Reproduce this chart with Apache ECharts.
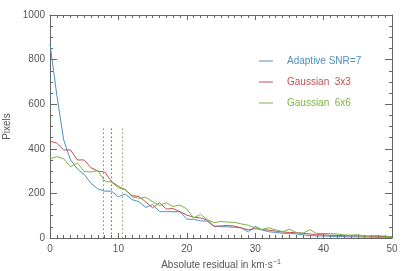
<!DOCTYPE html>
<html>
<head>
<meta charset="utf-8">
<script src="https://cdn.jsdelivr.net/npm/echarts@6/dist/echarts.min.js"></script>
<style>html,body{margin:0;padding:0;background:#fff}#c{width:407px;height:271px}</style>
</head>
<body>
<div id="c"></div>
<script>
const residuals = [0,1,2,3,4,5,6,7,8,9,10,11,12,13,14,15,16,17,18,19,20,21,22,23,24,25,26,27,28,29,30,31,32,33,34,35,36,37,38,39,40,41,42,43,44,45,46,47,48,49,50];
const adaptive = [870,640,440,350,310,285,245,220,210,210,185,197,172,163,137,150,118,118,118,118,84,84,77,75,52,51,50,48,45,27,52,36,28,25,21,21,18,14,11,9,9,8,7,6,5,5,4,4,3,3,2];
const gauss3 = [435,425,395,395,350,350,315,300,296,253,232,216,190,186,162,135,158,130,132,118,103,93,90,80,53,54,56,53,45,37,42,38,35,31,27,25,24,21,18,15,14,12,12,10,10,10,9,8,8,6,5];
const gauss6 = [355,365,355,320,337,298,296,302,256,250,225,218,185,178,182,163,146,158,141,148,130,90,106,82,69,74,71,70,63,57,45,38,46,36,28,40,24,22,37,20,20,20,18,14,13,15,8,10,10,8,6];
const seriesNames = ['Adaptive SNR=7', 'Gaussian  3x3', 'Gaussian  6x6'];
const thresholds = [7.8, 9.0, 10.6];
const thresholdTop = 500;
const xTicks = [0,10,20,30,40,50];
const yTicks = [0,200,400,600,800,1000];

const colors = ['#4f8fc4', '#c0504d', '#7cb342'];
const values = [adaptive, gauss3, gauss6];
const font = 'Liberation Sans';
const textColor = '#555';
const axisColor = '#666';

function pairs(v){ return residuals.map((x,i)=>[x, v[i]]); }

const xRange = {type:'value', min:xTicks[0], max:xTicks[xTicks.length-1], interval:10};
const yRange = {type:'value', min:yTicks[0], max:yTicks[yTicks.length-1], interval:200};
const gridBox = {left:50, right:15, top:15, bottom:33, containLabel:false, outerBoundsMode:'none'};

function frameAxis(position, gridIndex, onZero, inside, len, split){
  return {
    position: position, gridIndex: gridIndex,
    axisLine:{show:true, onZero:onZero, lineStyle:{color:axisColor, width:1}},
    splitLine:{show:false},
    axisTick:{show:true, inside:inside, length:len, lineStyle:{color:axisColor, width:1}},
    minorTick:{show:true, splitNumber:split, length:3, lineStyle:{color:axisColor, width:1}},
    axisLabel:{show:false}
  };
}
const hidden = {axisLine:{show:false, onZero:false}, axisTick:{show:false}, splitLine:{show:false}};

const chart = echarts.init(document.getElementById('c'), null, {renderer:'canvas'});
chart.setOption({
  animation:false,
  grid:[{...gridBox}, {...gridBox}],
  xAxis:[{
    ...xRange, gridIndex:0, position:'bottom', ...hidden,
    axisLabel:{color:textColor, fontFamily:font, fontSize:10, margin:6, formatter:v=>String(v)},
    name:'Absolute residual in km·s{sup|−1}', nameLocation:'middle', nameGap:20,
    nameTextStyle:{color:textColor, fontFamily:font, fontSize:10,
      rich:{sup:{fontSize:7, verticalAlign:'top', padding:[0,0,6,0], color:textColor, fontFamily:font}}}
  },
  {...xRange, ...frameAxis('top', 0, false, true, 5, 10)},
  {...xRange, ...frameAxis('top', 1, true, false, 5, 10)}],
  yAxis:[{
    ...yRange, gridIndex:0, position:'left', ...hidden,
    axisLabel:{color:textColor, fontFamily:font, fontSize:10, margin:5, formatter:v=>String(v)},
    name:'Pixels', nameLocation:'middle', nameGap:29,
    nameTextStyle:{color:textColor, fontFamily:font, fontSize:10}
  },
  {...yRange, ...frameAxis('right', 0, false, true, 7, 4)},
  {...yRange, ...frameAxis('right', 1, true, false, 7, 4)}],
  legend:{
    orient:'vertical', left:254, top:51, itemGap:11,
    icon:'rect', itemWidth:14, itemHeight:1,
    data: seriesNames.map((n,i)=>({name:n, textStyle:{color:colors[i]}})),
    textStyle:{fontFamily:font, fontSize:10, padding:[0,0,0,9]}
  },
  series: values.map((v,i)=>({
    name:seriesNames[i], type:'line', xAxisIndex:0, yAxisIndex:0,
    data:pairs(v), symbol:'none',
    color:colors[i],
    lineStyle:{color:colors[i], width:1}, itemStyle:{color:colors[i]},
    markLine:{
      silent:true, symbol:'none', label:{show:false},
      lineStyle:{color:colors[i], type:[1.5,2.5], width:1},
      data:[[{coord:[thresholds[i], 0], lineStyle:{color:colors[i], type:[1.5,2.5], width:1}},
             {coord:[thresholds[i], thresholdTop]}]]
    }
  }))
});
</script>
</body>
</html>
